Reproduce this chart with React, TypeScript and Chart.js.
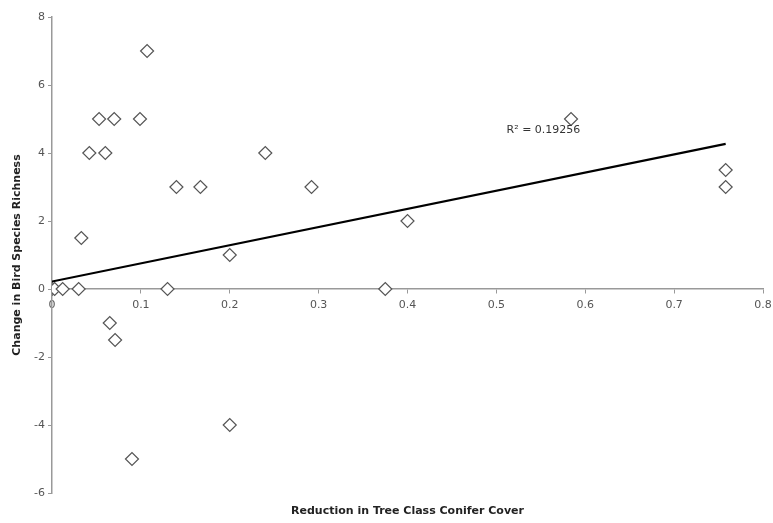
import React, { useEffect, useRef } from "react";
import { Chart, registerables } from "chart.js";

Chart.register(...registerables);

const reductionX = [0.107, 0.053, 0.07, 0.099, 0.042, 0.06, 0.24, 0.14, 0.167, 0.292, 0.033, 0.2, 0.4, 0.584, 0.758, 0.758, 0, 0.003, 0.012, 0.03, 0.13, 0.375, 0.065, 0.071, 0.2, 0.09];
const richnessY = [7, 5, 5, 5, 4, 4, 4, 3, 3, 3, 1.5, 1, 2, 5, 3.5, 3, 0, 0, 0, 0, 0, 0, -1, -1.5, -4, -5];
const trendX = [0, 0.758];
const trendY = [0.22, 4.27];
const r2Label = "R\u00B2 = 0.19256";
const r2Pos = { x: 0.553, y: 4.68 };
const xTitle = "Reduction in Tree Class Conifer Cover";
const yTitle = "Change in Bird Species Richness";

const FONT = "'DejaVu Sans', Verdana, sans-serif";

export default function App() {
  const ref = useRef<HTMLCanvasElement>(null);
  useEffect(() => {
    document.body.style.margin = "0";
    const ctx = ref.current!.getContext("2d")!;
    const annot = {
      id: "annot",
      afterDatasetsDraw(chart: any) {
        const c = chart.ctx;
        const { x, y } = chart.scales;
        c.save();
        c.fillStyle = "#333";
        c.font = `11px ${FONT}`;
        c.textAlign = "center";
        c.textBaseline = "middle";
        c.fillText(r2Label, x.getPixelForValue(r2Pos.x), y.getPixelForValue(r2Pos.y));
        c.font = `bold 11px ${FONT}`;
        c.fillStyle = "#222";
        const ca = chart.chartArea;
        c.fillText(xTitle, (ca.left + ca.right) / 2, 511);
        c.translate(17, (ca.top + ca.bottom) / 2);
        c.rotate(-Math.PI / 2);
        c.fillText(yTitle, 0, 0);
        c.restore();
      },
    };
    const chart = new Chart(ctx, {
      type: "scatter",
      data: {
        datasets: [
          {
            type: "line",
            data: trendX.map((x, i) => ({ x, y: trendY[i] })),
            borderColor: "#000",
            borderWidth: 2.2,
            pointRadius: 0,
            fill: false,
          } as any,
          {
            data: reductionX.map((x, i) => ({ x, y: richnessY[i] })),
            pointStyle: "rectRot",
            pointRadius: 6.5,
            pointBackgroundColor: "#fff",
            pointBorderColor: "#555",
            pointBorderWidth: 1.2,
          },
        ],
      },
      options: {
        animation: false,
        responsive: false,
        layout: { padding: { top: 17, right: 10, bottom: 30, left: 0 } },
        plugins: { legend: { display: false }, tooltip: { enabled: false } },
        scales: {
          x: {
            type: "linear",
            min: 0,
            max: 0.8,
            position: { y: 0 } as any,
            afterFit: (s: any) => { s.height = 0; s.paddingRight = 0; },
            ticks: {
              stepSize: 0.1,
              color: "#555",
              font: { family: FONT, size: 11 },
              padding: 6,
              callback: (v: any) => (v === 0 ? "0" : Number(v).toFixed(1)),
            },
            grid: { drawOnChartArea: false, drawTicks: true, tickLength: 4, color: "#999" },
            border: { display: true, color: "#999", width: 1.5 },
          },
          y: {
            type: "linear",
            min: -6,
            max: 8,
            position: "left",
            afterFit: (s: any) => { s.width = 52; },
            ticks: {
              stepSize: 2,
              color: "#555",
              font: { family: FONT, size: 11 },
              padding: 3,
            },
            grid: { drawOnChartArea: false, drawTicks: true, tickLength: 4, color: "#999" },
            border: { display: true, color: "#999", width: 1.5 },
          },
        },
      },
      plugins: [annot],
    });
    return () => chart.destroy();
  }, []);
  return (
    <div style={{ position: "absolute", left: 0, top: 0, width: 773, height: 523, background: "#fff" }}>
      <canvas ref={ref} width={773} height={523} />
    </div>
  );
}
